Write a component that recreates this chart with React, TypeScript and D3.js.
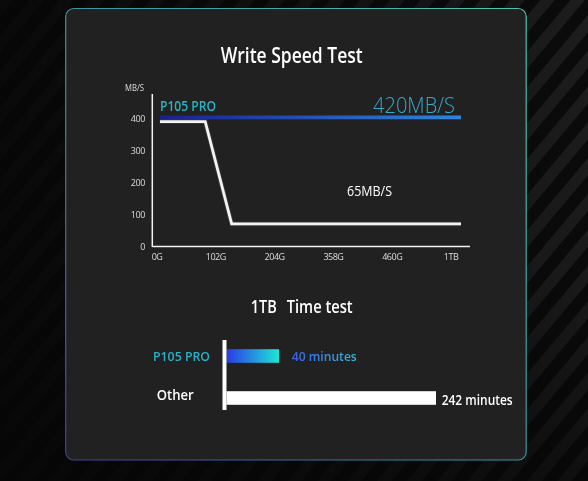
import React, { useEffect, useRef } from 'react';
import * as d3 from 'd3';

// Write speed chart
const speedTicks = [0, 100, 200, 300, 400];
const capacityLabels = ['0G', '102G', '204G', '358G', '460G', '1TB'];
// pos is measured in capacity-label steps (0 = 0G, 5 = 1TB)
const p105Speed = [
  { pos: 0.05, mbps: 405 },
  { pos: 5.17, mbps: 405 },
];
const otherSpeed = [
  { pos: 0.05, mbps: 392 },
  { pos: 0.82, mbps: 392 },
  { pos: 1.27, mbps: 72 },
  { pos: 5.17, mbps: 72 },
];

// 1TB time test
const timeCategories = ['P105 PRO', 'Other'];
const timeMinutes = [40, 242];
const timeLabels = ['40 minutes', '242 minutes'];

const FONT = '"Open Sans", "Noto Sans", sans-serif';

export default function App() {
  const svgRef = useRef<SVGSVGElement>(null);

  useEffect(() => {
    if (!svgRef.current) return;
    const svg = d3.select(svgRef.current);
    svg.selectAll('*').remove();

    const defs = svg.append('defs');

    const stripes = defs.append('pattern')
      .attr('id', 'stripes')
      .attr('patternUnits', 'userSpaceOnUse')
      .attr('width', 23)
      .attr('height', 23)
      .attr('patternTransform', 'rotate(40)');
    stripes.append('rect').attr('width', 23).attr('height', 23).attr('fill', '#0b0b0b');
    stripes.append('rect').attr('width', 11).attr('height', 23).attr('fill', '#1e1e1e');

    const fade = defs.append('linearGradient').attr('id', 'fade')
      .attr('x1', 0).attr('x2', 1).attr('y1', 0).attr('y2', 0);
    fade.append('stop').attr('offset', '0%').attr('stop-color', '#060606').attr('stop-opacity', 0.85);
    fade.append('stop').attr('offset', '60%').attr('stop-color', '#060606').attr('stop-opacity', 0.5);
    fade.append('stop').attr('offset', '100%').attr('stop-color', '#060606').attr('stop-opacity', 0.05);

    const fadeV = defs.append('linearGradient').attr('id', 'fadeV')
      .attr('x1', 0).attr('x2', 0).attr('y1', 0).attr('y2', 1);
    fadeV.append('stop').attr('offset', '0%').attr('stop-color', '#060606').attr('stop-opacity', 0);
    fadeV.append('stop').attr('offset', '55%').attr('stop-color', '#060606').attr('stop-opacity', 0.1);
    fadeV.append('stop').attr('offset', '100%').attr('stop-color', '#060606').attr('stop-opacity', 0.6);

    const border = defs.append('linearGradient').attr('id', 'border')
      .attr('x1', 1).attr('y1', 0).attr('x2', 0).attr('y2', 1);
    border.append('stop').attr('offset', '0%').attr('stop-color', '#4fc2ad');
    border.append('stop').attr('offset', '55%').attr('stop-color', '#3a8fa0');
    border.append('stop').attr('offset', '100%').attr('stop-color', '#40409a');

    const lineGrad = defs.append('linearGradient').attr('id', 'p105Line')
      .attr('gradientUnits', 'userSpaceOnUse')
      .attr('x1', 160).attr('x2', 461).attr('y1', 0).attr('y2', 0);
    lineGrad.append('stop').attr('offset', '0%').attr('stop-color', '#1a1f8e');
    lineGrad.append('stop').attr('offset', '100%').attr('stop-color', '#2e86dc');

    const barGrad = defs.append('linearGradient').attr('id', 'p105Bar')
      .attr('x1', 0).attr('x2', 1).attr('y1', 0).attr('y2', 0);
    barGrad.append('stop').attr('offset', '0%').attr('stop-color', '#2a3ae6');
    barGrad.append('stop').attr('offset', '100%').attr('stop-color', '#1fe6d6');

    const textGrad = defs.append('linearGradient').attr('id', 'minText')
      .attr('x1', 0).attr('x2', 1).attr('y1', 0).attr('y2', 0);
    textGrad.append('stop').attr('offset', '0%').attr('stop-color', '#3c5ee6');
    textGrad.append('stop').attr('offset', '100%').attr('stop-color', '#33b8d8');

    // Background + panel
    svg.append('rect').attr('width', 588).attr('height', 481).attr('fill', 'url(#stripes)');
    svg.append('rect').attr('width', 588).attr('height', 481).attr('fill', 'url(#fade)');
    svg.append('rect').attr('width', 588).attr('height', 481).attr('fill', 'url(#fadeV)');
    svg.append('rect')
      .attr('x', 65.7).attr('y', 8.5)
      .attr('width', 460.5).attr('height', 451.5)
      .attr('rx', 8)
      .attr('fill', '#222121')
      .attr('stroke', 'url(#border)')
      .attr('stroke-width', 1.2);

    // ---- Write speed chart ----
    const x = d3.scaleLinear().domain([0, capacityLabels.length - 1]).range([157, 451]);
    const y = d3.scaleLinear().domain([0, 400]).range([247, 119]);

    svg.append('text')
      .attr('x', 291.7).attr('y', 63.3)
      .attr('text-anchor', 'middle')
      .attr('textLength', 142).attr('lengthAdjust', 'spacingAndGlyphs')
      .style('font-family', FONT).style('font-size', '21px').style('font-weight', 600)
      .attr('fill', '#fff')
      .text('Write Speed Test');

    svg.append('text')
      .attr('x', 125).attr('y', 91)
      .attr('textLength', 19).attr('lengthAdjust', 'spacingAndGlyphs')
      .style('font-family', FONT).style('font-size', '9px')
      .attr('fill', '#ddd')
      .text('MB/S');

    // axes
    svg.append('line')
      .attr('x1', 152.3).attr('x2', 152.3).attr('y1', 94).attr('y2', y(0))
      .attr('stroke', '#f4f4f4').attr('stroke-width', 1.5);
    svg.append('line')
      .attr('x1', 152.3).attr('x2', 470).attr('y1', y(0) - 0.5).attr('y2', y(0) - 0.5)
      .attr('stroke', '#f4f4f4').attr('stroke-width', 1.5);

    svg.selectAll('text.ytick')
      .data(speedTicks)
      .enter()
      .append('text')
      .attr('class', 'ytick')
      .attr('x', 145).attr('y', d => y(d) + 3)
      .attr('text-anchor', 'end')
      .style('font-family', FONT).style('font-size', '9px').style('letter-spacing', '-0.4px')
      .attr('fill', '#ddd')
      .text(d => d);

    svg.selectAll('text.xtick')
      .data(capacityLabels)
      .enter()
      .append('text')
      .attr('class', 'xtick')
      .attr('x', (d, i) => x(i)).attr('y', 260)
      .attr('text-anchor', 'middle')
      .style('font-family', FONT).style('font-size', '9px').style('letter-spacing', '-0.5px')
      .attr('fill', '#ddd')
      .text(d => d);

    const line = d3.line<{ pos: number; mbps: number }>()
      .x(d => x(d.pos))
      .y(d => y(d.mbps));

    svg.append('path')
      .datum(otherSpeed)
      .attr('d', line)
      .attr('fill', 'none')
      .attr('stroke', '#8a8a8a').attr('stroke-opacity', 0.25)
      .attr('stroke-width', 4.5);
    svg.append('path')
      .datum(otherSpeed)
      .attr('d', line)
      .attr('fill', 'none')
      .attr('stroke', '#f3f3f3')
      .attr('stroke-width', 2.8);

    svg.append('path')
      .datum(p105Speed)
      .attr('d', line)
      .attr('fill', 'none')
      .attr('stroke', 'url(#p105Line)')
      .attr('stroke-width', 3.6);

    svg.append('text')
      .attr('x', 160).attr('y', 111)
      .attr('textLength', 56).attr('lengthAdjust', 'spacingAndGlyphs')
      .style('font-family', FONT).style('font-size', '14px').style('font-weight', 600)
      .attr('fill', '#2ab4c8')
      .text('P105 PRO');

    svg.append('text')
      .attr('x', 373).attr('y', 113.3)
      .attr('textLength', 82).attr('lengthAdjust', 'spacingAndGlyphs')
      .style('font-family', FONT).style('font-size', '22px').style('font-weight', 300)
      .attr('fill', '#36a9cb')
      .text('420MB/S');

    svg.append('text')
      .attr('x', 347).attr('y', 196)
      .attr('textLength', 45).attr('lengthAdjust', 'spacingAndGlyphs')
      .style('font-family', FONT).style('font-size', '14px').style('font-weight', 500)
      .attr('fill', '#fff')
      .text('65MB/S');

    // ---- 1TB time test ----
    const title2 = svg.append('text')
      .attr('y', 312.7)
      .style('font-family', FONT).style('font-size', '18px').style('font-weight', 600)
      .attr('fill', '#fff');
    title2.append('tspan').attr('x', 250.7)
      .attr('textLength', 26).attr('lengthAdjust', 'spacingAndGlyphs').text('1TB');
    title2.append('tspan').attr('x', 286.7)
      .attr('textLength', 66).attr('lengthAdjust', 'spacingAndGlyphs').text('Time test');

    const rowY = d3.scalePoint<string>().domain(timeCategories).range([356, 398]);
    const xTime = d3.scaleLinear().domain([0, 242]).range([248, 436]);
    const barH = 13.6;
    const x0 = 226.5;

    timeCategories.forEach((cat, i) => {
      const cy = rowY(cat) || 0;
      const isP105 = i === 0;
      svg.append('rect')
        .attr('x', x0).attr('y', cy - barH / 2)
        .attr('width', xTime(timeMinutes[i]) - x0).attr('height', barH)
        .attr('fill', isP105 ? 'url(#p105Bar)' : '#fff');

      svg.append('text')
        .attr('x', isP105 ? 153 : 156.7)
        .attr('y', isP105 ? cy + 5 : cy + 2)
        .attr('textLength', isP105 ? 57 : 37).attr('lengthAdjust', 'spacingAndGlyphs')
        .style('font-family', FONT)
        .style('font-size', isP105 ? '13px' : '15px')
        .style('font-weight', 600)
        .attr('fill', isP105 ? '#2ab0c6' : '#fff')
        .text(cat);

      svg.append('text')
        .attr('x', xTime(timeMinutes[i]) + (isP105 ? 12.7 : 5.7))
        .attr('y', isP105 ? cy + 5 : cy + 7)
        .attr('textLength', isP105 ? 65 : 71).attr('lengthAdjust', 'spacingAndGlyphs')
        .style('font-family', FONT)
        .style('font-size', isP105 ? '13px' : '14px')
        .style('font-weight', 600)
        .attr('fill', isP105 ? 'url(#minText)' : '#fff')
        .text(timeLabels[i]);
    });

    svg.append('line')
      .attr('x1', 224.5).attr('x2', 224.5).attr('y1', 340).attr('y2', 410)
      .attr('stroke', '#fff').attr('stroke-width', 4);
  }, []);

  return (
    <svg
      ref={svgRef}
      width={588}
      height={481}
      viewBox="0 0 588 481"
      style={{ position: 'fixed', left: 0, top: 0, display: 'block' }}
    />
  );
}
